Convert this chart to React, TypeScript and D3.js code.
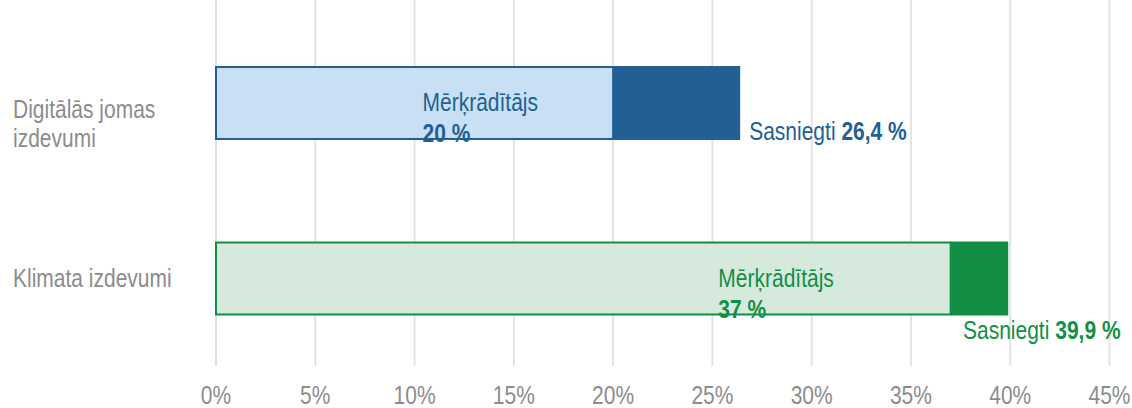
import React from "react";
import * as d3 from "d3";

const categories = ["Digitālās jomas\nizdevumi", "Klimata izdevumi"];
const targets = [20, 37];
const achieved = [26.4, 39.9];
const targetLabel = "Mērķrādītājs";
const achievedLabel = "Sasniegti";
const xTicks = [0, 5, 10, 15, 20, 25, 30, 35, 40, 45];

const W = 1132;
const H = 408;
const FONT = "'Liberation Sans', Arial, sans-serif";
const FS = 25;
const SX = 0.84;

const palettes = [
  { light: "#C9DFF3", dark: "#225F94" },
  { light: "#D5EADD", dark: "#138F45" },
];

function T({ x, y, anchor = "start", fill, bold = false, children }: any) {
  return (
    <g transform={`translate(${x},${y}) scale(${SX},1)`}>
      <text x={0} y={0} textAnchor={anchor} fontSize={FS} fill={fill} fontWeight={bold ? "bold" : "normal"}>
        {children}
      </text>
    </g>
  );
}

export default function App() {
  const x = d3.scaleLinear().domain([0, 45]).range([216, 1109.5]);
  const y = d3
    .scaleBand<number>()
    .domain(categories.map((_, i) => i))
    .range([15.25, 366.25])
    .paddingInner(0.59)
    .paddingOuter(0.295);
  const bw = y.bandwidth();

  const tgtLabelX = [x(10.4), x(25.3)];
  const achLabel = [
    { dx: x(achieved[0]) + 9, dy: 1 },
    { dx: 963, dy: 25 },
  ];

  return (
    <div style={{ position: "fixed", left: 0, top: 0 }}>
      <svg width={W} height={H} style={{ display: "block", fontFamily: FONT }}>
        <rect width={W} height={H} fill="#fff" />
        {xTicks.map((t) => (
          <g key={t}>
            <line x1={x(t)} x2={x(t)} y1={0} y2={366} stroke="#E3E3E3" strokeWidth={2} />
            <T x={x(t)} y={404} anchor="middle" fill="#8C8C8C">
              {t}%
            </T>
          </g>
        ))}
        {categories.map((c, i) => {
          const lines = c.split("\n");
          const cy = (y(i) as number) + bw / 2;
          const top = cy + 8.5 + (lines.length - 1) * 6;
          return (
            <g key={"c" + i}>
              {lines.map((l, j) => (
                <T key={j} x={13} y={top + j * 29} fill="#8C8C8C">
                  {l}
                </T>
              ))}
            </g>
          );
        })}
        {categories.map((_, i) => {
          const y0 = y(i) as number;
          const p = palettes[i];
          return (
            <g key={"b" + i}>
              <rect
                x={x(0)}
                y={y0}
                width={x(targets[i]) - x(0)}
                height={bw}
                fill={p.light}
                stroke={p.dark}
                strokeWidth={2}
              />
              <rect
                x={x(targets[i])}
                y={y0 - 1}
                width={x(achieved[i]) - x(targets[i])}
                height={bw + 2}
                fill={p.dark}
              />
              <T x={tgtLabelX[i]} y={y0 + 44} fill={p.dark}>
                {targetLabel}
              </T>
              <T x={tgtLabelX[i]} y={y0 + 75} fill={p.dark} bold>
                {targets[i]} %
              </T>
              <T x={achLabel[i].dx} y={y0 + bw + achLabel[i].dy} fill={p.dark}>
                {achievedLabel}{" "}
                <tspan fontWeight="bold">{String(achieved[i]).replace(".", ",")} %</tspan>
              </T>
            </g>
          );
        })}
      </svg>
    </div>
  );
}
